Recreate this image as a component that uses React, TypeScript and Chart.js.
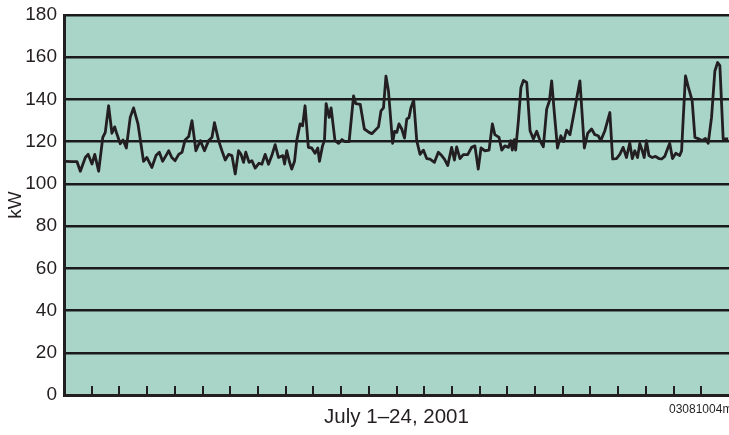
import { useEffect, useRef } from "react";
import { Chart, registerables } from "chart.js";

Chart.register(...registerables);

// Position of each reading, in days since July 1 (0 = start of July 1)
const dayPos = [
  0.05, 0.29, 0.47, 0.59, 0.77, 0.87, 1.01, 1.11, 1.25, 1.40, 1.49, 1.61, 1.73, 1.83, 1.91, 2.03, 2.13, 2.25, 2.39, 2.51,
  2.67, 2.87, 2.99, 3.17, 3.32, 3.44, 3.56, 3.68, 3.78, 3.89,
  4.01, 4.14, 4.26, 4.37, 4.50, 4.62, 4.76, 4.92, 5.07, 5.22, 5.34, 5.43, 5.58, 5.70, 5.82, 5.94, 6.06, 6.18, 6.30, 6.39,
  6.48, 6.56, 6.68, 6.78, 6.90, 7.04, 7.14, 7.26, 7.38, 7.50, 7.62, 7.74, 7.90,
  7.96, 8.04, 8.13, 8.22, 8.32, 8.40, 8.52, 8.61, 8.70, 8.82, 8.94, 9.06, 9.16, 9.22, 9.33, 9.40, 9.46, 9.57, 9.64, 9.78,
  9.91, 10.03, 10.14, 10.29, 10.45, 10.53, 10.69, 10.84, 11.01, 11.11, 11.35, 11.44, 11.53, 11.62, 11.71, 11.86,
  11.93, 12.01, 12.09, 12.19, 12.29, 12.37, 12.45, 12.52, 12.62, 12.73, 12.85, 12.97, 13.09, 13.21, 13.37, 13.51, 13.63,
  13.73, 13.85, 13.99, 14.09, 14.17, 14.29, 14.41, 14.57, 14.71, 14.83, 14.95, 15.05, 15.19, 15.34, 15.46, 15.55, 15.70, 15.80,
  15.91, 16.04, 16.12, 16.18, 16.25, 16.30, 16.40, 16.49, 16.58, 16.70, 16.82, 16.94, 17.06, 17.18, 17.30, 17.42, 17.52,
  17.60, 17.70, 17.81, 17.93, 18.03, 18.14, 18.26, 18.44, 18.62, 18.78, 18.90, 19.04, 19.16, 19.28, 19.37, 19.52, 19.70, 19.80,
  19.94, 20.06, 20.18, 20.30, 20.42, 20.51, 20.60, 20.70, 20.78, 20.87, 20.94, 21.02, 21.11, 21.23, 21.35, 21.47, 21.57,
  21.68, 21.78, 21.86, 21.96, 22.08, 22.22, 22.29, 22.35, 22.43, 22.53, 22.67, 22.77, 22.91, 23.03, 23.15, 23.25, 23.37,
  23.49, 23.59, 23.67, 23.79, 23.97,
];

// Load in kW at each position
const loadKw = [
  110.7, 110.5, 110.5, 106, 112.5, 114, 109.4, 114, 106, 122, 124.4, 137, 124, 127, 123.6, 119, 120.8, 117, 131.5, 136,
  128.4, 110.7, 112.5, 107.8, 113.4, 115, 110.7, 113.4, 115.7, 112.5,
  111, 114, 115, 120.8, 122.4, 130, 115.7, 120.5, 115.7, 120.5, 122, 129, 120.5, 115.7, 111.3, 114, 113.4, 104.7, 115.7, 114,
  110.2, 115, 110.2, 111, 107.5, 109.8, 109.3, 114, 109.3, 113.4, 118.6, 112.5, 113.4,
  109.4, 115.7, 110.7, 107, 110.7, 120.5, 128.4, 127.5, 137, 117.3, 117, 114.5, 117, 110.7, 118, 120.5, 138, 131.5, 136, 120.5,
  119.2, 121, 120, 120, 141.7, 138, 137.7, 126, 124.4, 123.8, 127, 134.6, 136, 151, 144, 119.2,
  124.9, 124.4, 128.4, 126, 121.7, 130.7, 131.3, 136, 139.7, 120.5, 114, 116, 112, 111.7, 110.2, 115, 113.4,
  111.7, 108.7, 117.3, 111.3, 117.5, 112, 113.9, 113.9, 117.3, 118, 107, 117, 115.7, 116, 128.4, 123.3, 122, 116,
  118, 117.3, 120.5, 116, 121, 116, 130, 145.6, 149, 148, 125.2, 121.3, 124.9, 120.5, 117.6, 135.4, 139.4,
  148.8, 133, 117, 122.8, 120, 125.5, 123.3, 136, 148.8, 117, 124, 126, 123.3, 122.8, 120.5, 125.2, 133.8, 111.8,
  112, 114, 117.3, 112.5, 119.4, 112, 115.7, 112.5, 119.2, 115.7, 112.5, 120.5, 113.4, 112.5, 113, 112, 111.8,
  113, 116.5, 119.2, 112, 114.5, 113.4, 115.7, 131.5, 151.2, 146, 139.4, 122, 121.3, 120.5, 121.5, 119.2, 131.5,
  153.5, 157.5, 156, 121.3, 121.3,
];

const dayMin = 0;
const dayMax = 24;
const kwMin = 0;
const kwMax = 180;
const kwStep = 20;

const xTitle = "July 1–24, 2001";
const yTitle = "kW";
const figureId = "03081004m";

const TEAL = "#a9d4c8";
const INK = "#231f20";
const FONT = '"Liberation Sans", Arial, Helvetica, sans-serif';

const decorPlugin = {
  id: "decor",
  beforeDraw(chart: any) {
    const { ctx, chartArea: a } = chart;
    ctx.save();
    ctx.fillStyle = TEAL;
    ctx.fillRect(a.left, a.top, a.right - a.left, a.bottom - a.top);
    ctx.restore();
  },
  afterDraw(chart: any) {
    const { ctx, chartArea: a } = chart;
    const xs = chart.scales.x;
    ctx.save();
    ctx.strokeStyle = INK;
    ctx.lineWidth = 2;
    xs.ticks.forEach((t: any) => {
      if (t.value <= xs.min || t.value >= xs.max) return;
      const px = Math.round(xs.getPixelForValue(t.value));
      ctx.beginPath();
      ctx.moveTo(px, a.bottom - 1);
      ctx.lineTo(px, a.bottom - 9);
      ctx.stroke();
    });
    ctx.fillStyle = INK;
    ctx.font = `12px ${FONT}`;
    ctx.textAlign = "left";
    ctx.textBaseline = "alphabetic";
    ctx.fillText(figureId, chart.width - 60, 413);
    ctx.restore();
  },
};

export default function App() {
  const ref = useRef<HTMLCanvasElement | null>(null);

  useEffect(() => {
    if (!ref.current) return;
    const points = dayPos.map((d, i) => ({ x: d, y: loadKw[i] }));
    const chart = new Chart(ref.current, {
      type: "line",
      data: {
        datasets: [
          {
            data: points,
            borderColor: INK,
            borderWidth: 2.8,
            pointRadius: 0,
            tension: 0,
            fill: false,
            borderJoinStyle: "round",
          },
        ],
      },
      options: {
        animation: false,
        responsive: false,
        devicePixelRatio: 1,
        layout: { padding: { top: 15, left: 0, right: 0, bottom: 0 } },
        plugins: {
          legend: { display: false },
          tooltip: { enabled: false },
        },
        scales: {
          x: {
            type: "linear",
            min: dayMin,
            max: dayMax,
            ticks: { display: false, stepSize: 1 },
            grid: { display: false, drawTicks: false },
            border: { display: true, color: INK, width: 3 },
            title: {
              display: true,
              text: xTitle,
              color: INK,
              font: { family: FONT, size: 20.5 },
              padding: { top: 0, bottom: 5 },
            },
            afterFit(scale: any) {
              scale.height = 40;
              scale.paddingLeft = 0;
              scale.paddingRight = 0;
            },
          },
          y: {
            min: kwMin,
            max: kwMax,
            ticks: {
              stepSize: kwStep,
              color: INK,
              padding: 7,
              font: { family: FONT, size: 19 },
            },
            grid: { color: "#1a1a1a", lineWidth: 2.5, drawTicks: false },
            border: { display: true, color: INK, width: 3 },
            title: {
              display: true,
              text: yTitle,
              color: INK,
              font: { family: FONT, size: 19 },
              padding: { top: 4, bottom: 0 },
            },
            afterFit(scale: any) {
              scale.width = 64;
              scale.paddingTop = 0;
              scale.paddingBottom = 0;
            },
          },
        },
      },
      plugins: [decorPlugin],
    });
    return () => chart.destroy();
  }, []);

  return (
    <div style={{ position: "fixed", left: 0, top: 0, width: 729, height: 435, background: "#fff" }}>
      <canvas ref={ref} width={729} height={435} style={{ display: "block" }} />
    </div>
  );
}
